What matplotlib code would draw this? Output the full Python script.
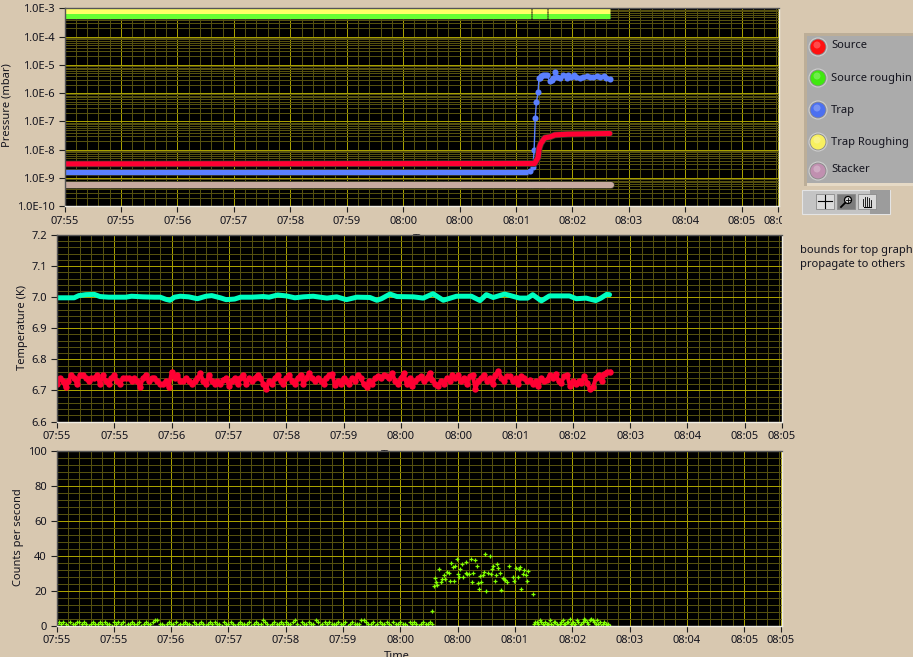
#!/usr/bin/env python3

import numpy as np
import matplotlib
matplotlib.use("Agg")
import matplotlib.pyplot as plt
import matplotlib.patheffects as pe
from matplotlib.patches import Circle, Rectangle
from matplotlib.ticker import FixedLocator, LogLocator, MultipleLocator, NullFormatter
from matplotlib.transforms import Bbox

plt.rcParams["font.family"] = ["Noto Sans", "DejaVu Sans"]
plt.rcParams["font.size"] = 8

nan = float("nan")

# x axis is in tick intervals, the labels are what the graph prints
time_labels = ["07:55", "07:55", "07:56", "07:57", "07:58", "07:59", "08:00", "08:00",
               "08:01", "08:02", "08:03", "08:04", "08:05", "08:05"]
time_ticks = [0, 1, 2, 3, 4, 5, 6, 7, 8, 9, 10, 11, 12, 12.64]

pressure_labels = ["1.0E-10", "1.0E-9", "1.0E-8", "1.0E-7", "1.0E-6", "1.0E-5", "1.0E-4", "1.0E-3"]
pressure_ticks = [1e-10, 1e-9, 1e-8, 1e-7, 1e-6, 1e-5, 1e-4, 1e-3]

# flat stretches, nan = short dropout
band_x = [0, 8.26, nan, 8.275, 8.55, nan, 8.565, 9.66]
trap_rough_y = [7.8e-4, 7.8e-4, nan, 7.8e-4, 7.8e-4, nan, 7.8e-4, 7.8e-4]
source_rough_y = [5.2e-4, 5.2e-4, nan, 5.2e-4, 5.2e-4, nan, 5.2e-4, 5.2e-4]
stacker_x = [0, 6.7, nan, 6.715, 8.26, nan, 8.275, 8.55, nan, 8.565, 9.69]
stacker_y = [5.5e-10, 5.5e-10, nan, 5.5e-10, 5.5e-10, nan, 5.5e-10, 5.5e-10, nan, 5.5e-10, 5.5e-10]

source_x = [0, 8.33, 8.39, 8.41, 8.44, 8.51, 8.60, 8.69, 8.92, 9.66]
source_y = [3.1e-9, 3.2e-9, 5.2e-9, 1.1e-8, 1.65e-8, 2.6e-8, 2.8e-8, 3.3e-8, 3.5e-8, 3.7e-8]

trap_base_x = [0, 8.22]
trap_base_y = [1.65e-9, 1.65e-9]
trap_x = [8.24, 8.30, 8.32, 8.34, 8.36, 8.39, 8.405, 8.42, 8.45, 8.48, 8.51, 8.54,
          8.60, 8.63, 8.66, 8.69, 8.72, 8.78, 8.84, 8.90, 8.92, 8.98, 9.02, 9.07,
          9.13, 9.19, 9.25, 9.31, 9.37, 9.43, 9.49, 9.55, 9.60, 9.66]
trap_y = [1.7e-9, 2.4e-9, 9.5e-9, 1.26e-7, 4.7e-7, 1.05e-6, 3.3e-6, 3.3e-6, 4.0e-6, 4.2e-6, 4.4e-6, 4.2e-6,
          2.7e-6, 3.0e-6, 3.4e-6, 5.5e-6, 3.6e-6, 3.5e-6, 4.2e-6, 3.3e-6, 4.4e-6, 3.6e-6, 4.4e-6, 3.8e-6,
          3.3e-6, 3.6e-6, 4.1e-6, 3.8e-6, 3.7e-6, 4.1e-6, 3.6e-6, 4.0e-6, 3.5e-6, 3.2e-6]

temp_labels = ["6.6", "6.7", "6.8", "6.9", "7.0", "7.1", "7.2"]
temp_ticks = [6.6, 6.7, 6.8, 6.9, 7.0, 7.1, 7.2]

stage_x = [0, 0.15, 0.3, 0.38, 0.5, 0.65, 0.75, 0.9, 1.0, 1.2, 1.3, 1.5, 1.7, 1.8, 1.9, 1.97, 2.05,
           2.15, 2.3, 2.45, 2.6, 2.7, 2.85, 2.95, 3.1, 3.2, 3.4, 3.6, 3.7, 3.85, 4.0, 4.15, 4.3,
           4.47, 4.71, 4.88, 5.05, 5.23, 5.46, 5.58, 5.66, 5.81, 5.93, 6.22, 6.39, 6.56, 6.74, 6.97,
           7.23, 7.38, 7.49, 7.61, 7.81, 8.07, 8.21, 8.3, 8.45, 8.59, 8.94, 9.06, 9.23, 9.4, 9.49,
           9.59, 9.64]
stage_y = [6.998, 6.998, 6.998, 7.005, 7.008, 7.009, 7.002, 7.0, 7.0, 7.0, 7.003, 7.001, 7.0, 7.0, 6.993, 6.99, 7.0,
           7.003, 7.001, 6.995, 7.003, 7.005, 6.998, 6.992, 6.994, 7.0, 7.0, 7.002, 7.0, 7.007, 7.004, 6.998, 7.001,
           7.003, 6.997, 7.001, 6.992, 7.0, 6.999, 6.99, 6.995, 7.01, 7.002, 7.001, 6.997, 7.011, 6.99, 7.003,
           7.003, 6.989, 7.008, 6.999, 7.01, 6.997, 6.997, 7.008, 6.988, 7.004, 7.004, 6.995, 6.997, 6.989, 6.997,
           7.009, 7.008]

# one sample per 0.05 tick interval
cold_head_step = 0.05
cold_head_y = [
    6.72, 6.74, 6.73, 6.71, 6.73, 6.75, 6.74, 6.72, 6.75, 6.75, 6.74, 6.73, 6.74, 6.74, 6.75, 6.72, 6.75, 6.73, 6.72, 6.74,
    6.75, 6.73, 6.72, 6.74, 6.74, 6.74, 6.73, 6.74, 6.73, 6.71, 6.74, 6.75, 6.73, 6.74, 6.74, 6.73, 6.72, 6.72, 6.73, 6.71,
    6.76, 6.74, 6.75, 6.73, 6.73, 6.74, 6.73, 6.72, 6.73, 6.74, 6.755, 6.73, 6.72, 6.75, 6.73, 6.72, 6.73, 6.72, 6.735, 6.74,
    6.715, 6.73, 6.74, 6.72, 6.74, 6.75, 6.72, 6.74, 6.73, 6.74, 6.75, 6.74, 6.72, 6.705, 6.73, 6.72, 6.74, 6.75, 6.73, 6.72,
    6.74, 6.75, 6.73, 6.72, 6.74, 6.75, 6.72, 6.74, 6.755, 6.74, 6.73, 6.74, 6.73, 6.72, 6.74, 6.75, 6.753, 6.716, 6.73, 6.72,
    6.74, 6.73, 6.72, 6.74, 6.73, 6.75, 6.74, 6.72, 6.71, 6.73, 6.72, 6.74, 6.745, 6.74, 6.75, 6.745, 6.74, 6.755, 6.73, 6.72,
    6.74, 6.755, 6.72, 6.74, 6.715, 6.73, 6.74, 6.745, 6.73, 6.74, 6.756, 6.735, 6.72, 6.715, 6.73, 6.72, 6.74, 6.73, 6.75, 6.74,
    6.75, 6.73, 6.74, 6.72, 6.745, 6.75, 6.705, 6.73, 6.74, 6.75, 6.73, 6.74, 6.72, 6.75, 6.763, 6.74, 6.73, 6.745, 6.745, 6.73,
    6.74, 6.72, 6.745, 6.74, 6.73, 6.735, 6.72, 6.73, 6.713, 6.74, 6.73, 6.735, 6.75, 6.74, 6.754, 6.73, 6.725, 6.745, 6.75, 6.713,
    6.73, 6.72, 6.73, 6.725, 6.745, 6.725, 6.704, 6.71, 6.74, 6.75, 6.73, 6.754, 6.759, 6.76,
]

count_labels = ["0", "20", "40", "60", "80", "100"]
count_ticks = [0, 20, 40, 60, 80, 100]

# quiet stretch before the burst
quiet_step = 0.04
quiet_counts = [
    1, 2, 1, 2, 1, 0, 2, 1, 1, 2, 2, 1, 2, 1, 0, 1, 2, 1, 1, 2, 1, 2, 1, 1, 0,
    2, 1, 2, 1, 2, 0, 1, 1, 2, 1, 1, 2, 0, 1, 2, 1, 1, 2, 3, 3, 1, 1, 0, 1, 2,
    1, 1, 2, 0, 1, 1, 2, 1, 1, 0, 2, 1, 1, 2, 1, 0, 1, 2, 1, 2, 1, 1, 0, 2, 1,
    1, 2, 1, 0, 1, 2, 1, 1, 1, 2, 0, 1, 2, 1, 1, 3, 2, 1, 0, 1, 2, 1, 1, 2, 1,
    2, 1, 1, 2, 3, 1, 0, 2, 1, 1, 2, 1, 1, 3, 2, 0, 1, 2, 1, 2, 1, 1, 1, 2, 1,
    1, 2, 0, 1, 2, 1, 1, 1, 3, 3, 2, 1, 1, 2, 0, 1, 2, 1, 1, 2, 1, 0, 2, 1, 1,
    2, 1, 1, 0, 2, 1, 2, 1, 0, 1, 2, 1, 1, 2, 1,
]
burst_x = [6.55, 6.585, 6.608, 6.614, 6.638, 6.672, 6.707, 6.725, 6.766, 6.783, 6.806, 6.841, 6.864, 6.882, 6.917,
           6.934, 6.952, 6.992, 7.004, 7.021, 7.039, 7.074, 7.091, 7.138, 7.144, 7.167, 7.196, 7.231, 7.248, 7.266,
           7.301, 7.336, 7.353, 7.371, 7.388, 7.405, 7.44, 7.458, 7.475, 7.493, 7.528, 7.562, 7.58, 7.597, 7.615,
           7.65, 7.667, 7.685, 7.702, 7.737, 7.754, 7.789, 7.807, 7.824, 7.859, 7.894, 7.964, 7.981, 8.016, 8.051,
           8.069, 8.086, 8.104, 8.138, 8.156, 8.191, 8.208, 8.226, 8.313]
burst_y = [8.4, 22.8, 27.3, 25.1, 23.3, 32.5, 25.1, 26.8, 29.1, 26.8, 30.6, 29.8, 25.6, 36, 33.3,
           25.6, 34.2, 38.3, 29.6, 27.9, 32.5, 35.4, 27.9, 30, 36.5, 29.6, 29.5, 38.3, 25.1, 30.2,
           37.7, 34.2, 24.5, 21, 28.5, 25.1, 29.1, 30.8, 41.1, 19.9, 30.2, 40, 29.6, 32.5, 34.2,
           25.6, 29.1, 35.4, 33.1, 30.2, 20.5, 27.3, 26.8, 25.8, 25.1, 34.2, 27.9, 25.6, 33.1, 27.9,
           32.5, 33.5, 21, 29.6, 31.9, 29.1, 25.6, 31.4, 18.2]
after_start = 8.33
after_step = 0.025
after_counts = [1, 2, 2, 1, 3, 2, 1, 0, 2, 1, 1, 3, 1, 0, 2, 2, 1, 0, 1, 2, 3, 1, 1, 2, 2, 4, 1, 2, 0, 1,
                3, 2, 0, 1, 2, 4, 3, 2, 1, 3, 4, 3, 2, 1, 3, 1, 2, 0, 1, 2, 1, 0, 1, 0]

legend_names = ["Source", "Source roughin", "Trap", "Trap Roughing", "Stacker"]
legend_colors = ["#FF1010", "#40E810", "#4C70F0", "#F8F060", "#C090B0"]

BG = "#D8C8B0"
TEXT = "#14141E"
MAJOR_GRID = "#A8A000"
MINOR_GRID = "#55500F"
W, H = 913, 657


def make_axes(left, top, right, bottom):
    return fig.add_axes([left / W, 1 - bottom / H, (right - left) / W, (bottom - top) / H])


def style_axes(ax, xmax, ticks, labels):
    ax.set_facecolor("black")
    ax.set_xlim(0, xmax)
    ax.set_axisbelow(True)
    ax.xaxis.set_major_locator(FixedLocator(time_ticks))
    ax.set_xticklabels(time_labels)
    ax.xaxis.set_minor_locator(MultipleLocator(0.2))
    ax.yaxis.set_major_locator(FixedLocator(ticks))
    ax.set_yticklabels(labels)
    ax.grid(which="minor", color=MINOR_GRID, lw=0.72)
    ax.grid(which="major", color=MAJOR_GRID, lw=0.72)
    ax.tick_params(which="major", length=4, width=0.8, pad=3, color="#202020", labelcolor=TEXT, labelsize=8)
    ax.tick_params(which="minor", length=0)
    for side in ["top", "left"]:
        ax.spines[side].set_color("#555555")
        ax.spines[side].set_linewidth(1)
    for side in ["bottom", "right"]:
        ax.spines[side].set_color("#F0EDE4")
        ax.spines[side].set_linewidth(1)


fig = plt.figure(figsize=(W / 100, H / 100), dpi=100, facecolor=BG)

# thin dark edge the thick traces have on the grid
edge = [pe.Stroke(linewidth=4.8, foreground="#3C3C28"), pe.Normal()]

# pressure
ax1 = make_axes(64.5, 8.4, 778.5, 206)
ax1.set_yscale("log")
ax1.set_ylim(1e-10, 1e-3)
style_axes(ax1, 12.65, pressure_ticks, pressure_labels)
ax1.yaxis.set_minor_locator(LogLocator(base=10, subs=range(2, 10), numticks=12))
ax1.yaxis.set_minor_formatter(NullFormatter())
ax1.plot(band_x, source_rough_y, color="#66FF33", lw=3.6, solid_capstyle="butt", path_effects=edge)
ax1.plot(band_x, trap_rough_y, color="#FFFF66", lw=3.6, solid_capstyle="butt")
ax1.plot(trap_base_x, trap_base_y, color="#5B80FF", lw=3.7, solid_capstyle="butt", path_effects=edge)
ax1.plot(trap_x, trap_y, color="#5B80FF", lw=1, marker="o", ms=4.4, mew=0)
ax1.plot(source_x, source_y, color="#FF0033", lw=3.7, solid_capstyle="round", path_effects=edge)
ax1.plot(stacker_x, stacker_y, color="#C8AAA0", lw=4.4, solid_capstyle="round",
         path_effects=[pe.Stroke(linewidth=5.6, foreground="#3C3C28"), pe.Normal()])
# last tick label is cut by the panel edge
last = ax1.get_xticklabels()[-1]
last.set_clip_box(Bbox([[0, 0], [781.5, H]]))
last.set_clip_on(True)

# temperature
ax2 = make_axes(57, 235, 781.5, 421.5)
ax2.set_ylim(6.6, 7.2)
style_axes(ax2, 12.64, temp_ticks, temp_labels)
ax2.yaxis.set_minor_locator(MultipleLocator(0.02))
cold_head_x = np.arange(len(cold_head_y)) * cold_head_step
ax2.plot(stage_x, stage_y, color="#00FFC0", lw=3.6, solid_capstyle="round")
ax2.plot(cold_head_x, cold_head_y, color="#FF0033", lw=2.8, marker="o", ms=4.6, mew=0)

# counts
ax3 = make_axes(56.5, 451, 781.5, 625.5)
ax3.set_ylim(0, 100)
style_axes(ax3, 12.65, count_ticks, count_labels)
ax3.yaxis.set_minor_locator(MultipleLocator(4))
quiet_x = np.arange(len(quiet_counts)) * quiet_step
after_x = after_start + np.arange(len(after_counts)) * after_step
for xs, ys in [(quiet_x, quiet_counts), (burst_x, burst_y), (after_x, after_counts)]:
    ax3.plot(xs, ys, ls="none", marker="+", ms=3.2, mew=0.9, color="#80FF00")

# labels, the two upper Time labels sit under the next panel
fig.text(7 / W, 1 - 105 / H, "Pressure (mbar)", rotation=90, ha="center", va="center", color=TEXT)
fig.text(22 / W, 1 - 327 / H, "Temperature (K)", rotation=90, ha="center", va="center", color=TEXT)
fig.text(18 / W, 1 - 537 / H, "Counts per second", rotation=90, ha="center", va="center", color=TEXT)
fig.text(397 / W, 1 - 651 / H, "Time", ha="center", va="top", color=TEXT)
fig.text(426 / W, 1 - 233.5 / H, "Time", ha="center", va="top", color=TEXT, zorder=-1)
fig.text(394 / W, 1 - 449.5 / H, "Time", ha="center", va="top", color=TEXT, zorder=-1)

# legend panel and toolbar, pixel coordinates
deco = fig.add_axes([0, 0, 1, 1], zorder=5)
deco.set_xlim(0, W)
deco.set_ylim(H, 0)
deco.axis("off")
deco.add_patch(Rectangle((804, 33), 112, 153, fc="#E6DAC6", ec="none"))
deco.add_patch(Rectangle((804, 33), 112, 3, fc="#BCAE98", ec="none"))
deco.add_patch(Rectangle((804, 33), 3, 153, fc="#BCAE98", ec="none"))
deco.add_patch(Rectangle((807, 36), 109, 147, fc="#ABABAB", ec="none"))

ball_y = [47, 78, 110, 142, 171]
text_y = [46, 78, 110, 142, 170]
for name, col, by, ty in zip(legend_names, legend_colors, ball_y, text_y):
    deco.add_patch(Circle((818, by), 9, fc="#8C8C8C", ec="#D0D0D0", lw=0.8))
    deco.add_patch(Circle((818, by), 7.5, fc=col, ec="none"))
    deco.add_patch(Circle((817, by - 2), 3.5, fc="white", ec="none", alpha=0.25))
    deco.text(831, ty, name, va="center", ha="left", color=TEXT, fontsize=8)

deco.add_patch(Rectangle((802, 190), 88, 24, fc="#C4C4C4", ec="#E4E4E4", lw=0.8))
deco.add_patch(Rectangle((870, 190), 20, 24, fc="#9C9C9C", ec="none"))
for bx, fc in [(816, "#DADADA"), (837, "#7C7C7C"), (858, "#DADADA")]:
    deco.add_patch(Rectangle((bx, 194), 18, 15, fc=fc, ec="#8A8A8A", lw=0.6))
deco.plot([818, 832], [201, 201], color="black", lw=0.8)
deco.plot([825, 825], [195, 208], color="black", lw=0.8)
deco.add_patch(Circle((848, 200), 3.5, fc="#DADADA", ec="black", lw=0.9))
deco.plot([845, 841], [203, 207], color="black", lw=1.3)
deco.plot([846, 850], [200, 200], color="black", lw=0.6)
deco.plot([848, 848], [198, 202], color="black", lw=0.6)
for hx, h_top in [(863, 199), (865, 197), (867, 197), (869, 198), (871, 200)]:
    deco.plot([hx, hx], [h_top, 206], color="black", lw=0.6)
deco.plot([864, 871], [207, 207], color="black", lw=0.8)

deco.text(800, 250, "bounds for top graph", va="center", ha="left", color=TEXT, fontsize=8)
deco.text(800, 265, "propagate to others", va="center", ha="left", color=TEXT, fontsize=8)

fig.savefig("out.png", dpi=100, facecolor=BG)
